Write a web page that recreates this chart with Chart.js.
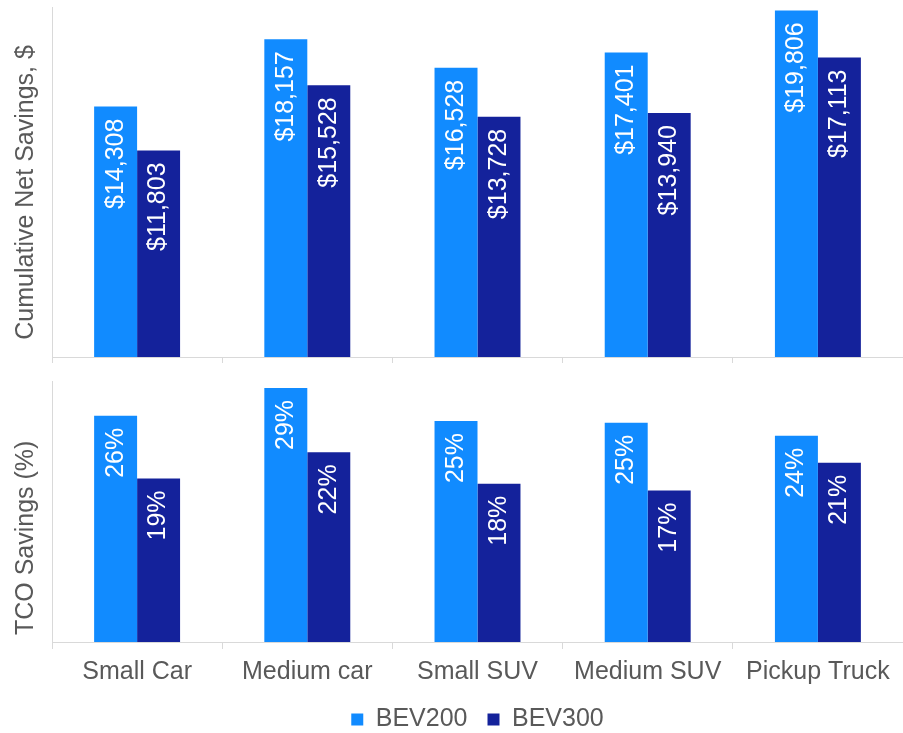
<!DOCTYPE html>
<html>
<head>
<meta charset="utf-8">
<script src="https://cdn.jsdelivr.net/npm/chart.js@4/dist/chart.umd.min.js"></script>
<style>
  html, body { margin: 0; padding: 0; background: #fff; }
  body { width: 903px; height: 733px; overflow: hidden; position: relative; }
  .panel { position: absolute; left: 0; width: 903px; }
  #top-panel { top: 0; height: 365px; }
  #bottom-panel { top: 365px; height: 377px; }
</style>
</head>
<body>
<div class="panel" id="top-panel"><canvas id="savings-chart"></canvas></div>
<div class="panel" id="bottom-panel"><canvas id="tco-chart"></canvas></div>
<script>
// ------- Data -------
const categories = ['Small Car', 'Medium car', 'Small SUV', 'Medium SUV', 'Pickup Truck'];
const seriesNames = ['BEV200', 'BEV300'];
const netSavingsBev200 = [14308, 18157, 16528, 17401, 19806];
const netSavingsBev300 = [11803, 15528, 13728, 13940, 17113];
const tcoSavingsBev200 = [26.0, 29.2, 25.4, 25.2, 23.7]; // %
const tcoSavingsBev300 = [18.8, 21.8, 18.2, 17.4, 20.6]; // %

const COLORS = ['#118BFF', '#14229B'];
const AXIS = '#d9d9d9';
const TEXT = '#595959';
const FONT = '"Liberation Sans", Arial, sans-serif';
const SIZE = 25;

// white rotated labels inside the top of each bar
function barLabels(format) {
  return {
    id: 'barLabels',
    afterDatasetsDraw(chart) {
      const ctx = chart.ctx;
      chart.data.datasets.forEach((ds, i) => {
        chart.getDatasetMeta(i).data.forEach((bar, j) => {
          ctx.save();
          ctx.translate(bar.x, bar.y + 12);
          ctx.rotate(-Math.PI / 2);
          ctx.font = SIZE + 'px ' + FONT;
          ctx.fillStyle = '#fff';
          ctx.textAlign = 'right';
          ctx.textBaseline = 'middle';
          ctx.fillText(format(ds.data[j]), 0, 0);
          ctx.restore();
        });
      });
    }
  };
}

function datasets(a, b) {
  return [a, b].map((data, i) => ({
    label: seriesNames[i], data,
    backgroundColor: COLORS[i], borderWidth: 0,
    categoryPercentage: 0.505, barPercentage: 1
  }));
}

function yAxis(title, max, align) {
  return {
    min: 0, max,
    ticks: { display: false },
    grid: { display: false, drawTicks: false },
    border: { color: AXIS },
    title: { display: true, text: title, align, color: TEXT, font: { family: FONT, size: SIZE }, padding: { top: 11, bottom: 0 } },
    afterFit(scale) { scale.width = 52; }
  };
}

const money = v => '$' + v.toLocaleString('en-US');
const pct = v => Math.round(v) + '%';

Chart.defaults.font.family = FONT;

new Chart(document.getElementById('savings-chart'), {
  type: 'bar',
  data: { labels: categories, datasets: datasets(netSavingsBev200, netSavingsBev300) },
  options: {
    responsive: true, maintainAspectRatio: false, animation: false,
    layout: { padding: { top: 7, bottom: 2, left: 0, right: 0 } },
    plugins: { legend: { display: false }, tooltip: { enabled: false } },
    scales: {
      x: {
        ticks: { display: false },
        grid: { drawOnChartArea: false, tickLength: 6, color: AXIS },
        border: { color: AXIS }
      },
      // trailing spaces nudge the centred title down a little, like the original
      y: yAxis('Cumulative Net Savings, $   ', 20000, 'center')
    }
  },
  plugins: [barLabels(money)]
});

new Chart(document.getElementById('tco-chart'), {
  type: 'bar',
  data: { labels: categories, datasets: datasets(tcoSavingsBev200, tcoSavingsBev300) },
  options: {
    responsive: true, maintainAspectRatio: false, animation: false,
    layout: { padding: { top: 16, bottom: 0, left: 0, right: 0 } },
    plugins: {
      tooltip: { enabled: false },
      legend: {
        position: 'bottom',
        fullSize: false,
        labels: { boxWidth: 12, boxHeight: 12, padding: 20, color: TEXT, font: { family: FONT, size: SIZE } }
      }
    },
    scales: {
      x: {
        ticks: { color: TEXT, padding: 8, font: { family: FONT, size: SIZE } },
        grid: { drawOnChartArea: false, tickLength: 7, color: AXIS },
        border: { color: AXIS },
        afterFit(scale) { scale.height = 45; }
      },
      y: yAxis(' TCO Savings (%)', 30, 'start')
    }
  },
  plugins: [barLabels(pct)]
});
</script>
</body>
</html>
